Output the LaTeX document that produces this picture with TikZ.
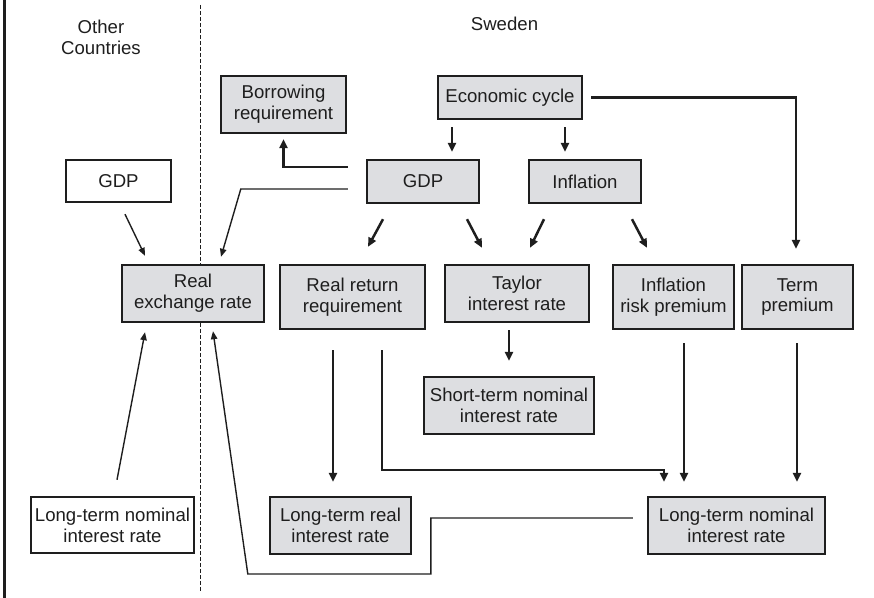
\documentclass[tikz,border=0pt]{standalone}
\usepackage{fontspec}
\setmainfont{Liberation Sans}
\usepackage{tikz}
\usetikzlibrary{arrows.meta}
\usetikzlibrary{calc}

\definecolor{boxgray}{RGB}{221,222,225}
\definecolor{ink}{RGB}{30,30,30}

\begin{document}
\begin{tikzpicture}[
            x=.5pt, y=-.5pt,
            lbl/.style={font=\fontsize{9.3}{10.4}\selectfont, align=center, text=ink},
            plainbox/.style={lbl, draw=ink, line width=1.2pt, fill=white, inner sep=0pt},
            shaded/.style={plainbox, fill=boxgray},
            link/.style={draw=ink, line width=1.25pt, -{Triangle[length=4.5pt, width=4pt]}},
            thinlink/.style={draw=ink, line width=.7pt, -{Triangle[length=4pt, width=3.2pt]}},
        ]
            \useasboundingbox (0, 0) rectangle (874, 598);

            %% frame on the left and the border between the two regions
            \draw[ink, line width=1.1pt] (4.5, 0) -- (4.5, 598);
            \draw[ink, line width=.45pt, dash pattern=on 2pt off 1pt] (200, 5) -- (200, 592);

            \node[lbl] (other) at (101, 37.5) {Other\\Countries};
            \node[lbl] (sweden) at (504.5, 24) {Sweden};

            %% boxes
            \node[shaded, minimum width=62.5pt, minimum height=28.5pt] (borrow) at (283.5, 104.5) {Borrowing\\requirement};
            \node[shaded, minimum width=72pt, minimum height=21.5pt] (cycle) at (510, 97.5) {Economic cycle};
            \node[shaded, minimum width=56pt, minimum height=21.5pt] (gdps) at (423, 181.5) {GDP};
            \node[shaded, minimum width=56pt, minimum height=21.5pt] (infl) at (585, 181.5) {Inflation};
            \node[plainbox, minimum width=52.5pt, minimum height=21pt] (gdpo) at (118.5, 181) {GDP};

            \node[shaded, minimum width=71pt, minimum height=28.5pt] (rer) at (193, 293.5) {Real\\exchange rate};
            \node[shaded, minimum width=72.5pt, minimum height=32pt] (rrr) at (352.5, 297) {Real return\\requirement};
            \node[shaded, minimum width=72pt, minimum height=28.5pt] (taylor) at (517, 293.5) {Taylor\\interest rate};
            \node[shaded, minimum width=60.5pt, minimum height=32pt] (irp) at (673.5, 297) {Inflation\\risk premium};
            \node[shaded, minimum width=55.5pt, minimum height=32pt] (term) at (797.5, 297) {Term\\premium};

            \node[shaded, minimum width=85pt, minimum height=28.5pt] (short) at (509, 405.5) {Short-term nominal\\interest rate};

            \node[plainbox, minimum width=81.5pt, minimum height=28pt] (ltno) at (112.5, 525) {Long-term nominal\\interest rate};
            \node[shaded, minimum width=70.5pt, minimum height=28.5pt] (ltr) at (340.5, 525.5) {Long-term real\\interest rate};
            \node[shaded, minimum width=88.5pt, minimum height=28.5pt] (ltns) at (736.5, 525.5) {Long-term nominal\\interest rate};

            %% thin connectors into the real exchange rate
            \draw[thinlink] ($(gdpo.south)+(6.5, 11)$) -- ($(rer.north)+(-48, -8)$);
            \draw[thinlink] ($(gdps.west)+(-18, 7.5)$) -- ++(-107, 0) -- ($(rer.north)+(28, -7)$);
            \draw[thinlink] ($(ltno.north)+(4.5, -16)$) -- ($(rer.south)+(-48, 9)$);
            \draw[thinlink] ($(ltns.west)+(-14, -7.5)$) -- ++(-202, 0) -- ++(0, 56)
                -- ++(-183, 0) -- ($(rer.south)+(20, 8)$);

            %% thick connectors
            \draw[link] ($(gdps.west)+(-18, -14.5)$) -| ($(borrow.south)+(0, 5)$);
            \draw[link] ($(cycle.south)+(-58, 7)$) -- ($(gdps.north)+(29, -7)$);
            \draw[link] ($(cycle.south)+(55, 7)$) -- ($(infl.north)+(-20, -7)$);
            \draw[link] ($(cycle.east)+(8, 0)$) -| ($(term.north)+(-1.5, -15)$);

            \draw[link] ($(gdps.south)+(-40, 15)$) -- ($(rrr.north)+(15.5, -17)$);
            \draw[link] ($(gdps.south)+(44, 15)$) -- ($(taylor.north)+(-35, -16)$);
            \draw[link] ($(infl.south)+(-41, 15)$) -- ($(taylor.north)+(13, -16)$);
            \draw[link] ($(infl.south)+(47, 15)$) -- ($(irp.north)+(-26.5, -16)$);

            \draw[link] ($(taylor.south)+(-8, 7)$) -- ($(short.north)+(0, -15)$);
            \draw[link] ($(rrr.south)+(-19.5, 20)$) -- ($(ltr.north)+(-7.5, -14)$);
            \draw[link] ($(rrr.south)+(29.5, 20)$) -- ++(0, 120) -| ($(ltns.north)+(-72.5, -14)$);
            \draw[link] ($(irp.south)+(10.5, 13)$) -- ($(ltns.north)+(-52.5, -14)$);
            \draw[link] ($(term.south)+(-.5, 13)$) -- ($(ltns.north)+(60.5, -14)$);
        \end{tikzpicture}
\end{document}
